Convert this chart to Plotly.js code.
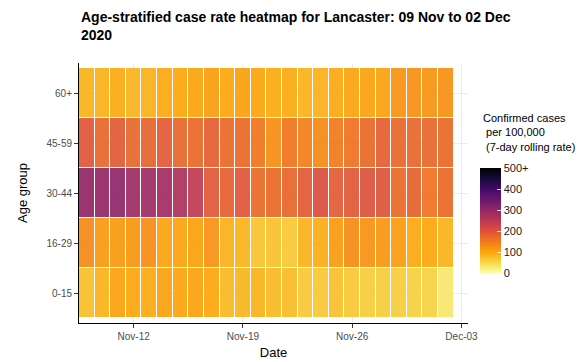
<!DOCTYPE html>
<html>
<head>
<meta charset="utf-8">
<script src="https://cdn.plot.ly/plotly-3.0.1.min.js"></script>
<style>html,body{margin:0;padding:0;background:#fff;}#chart{width:586px;height:362px;}</style>
</head>
<body>
<div id="chart"></div>
<script>
const dates = ['2020-11-09','2020-11-10','2020-11-11','2020-11-12','2020-11-13','2020-11-14','2020-11-15','2020-11-16',
  '2020-11-17','2020-11-18','2020-11-19','2020-11-20','2020-11-21','2020-11-22','2020-11-23','2020-11-24',
  '2020-11-25','2020-11-26','2020-11-27','2020-11-28','2020-11-29','2020-11-30','2020-12-01','2020-12-02'];
const ageGroups = ['0-15','16-29','30-44','45-59','60+'];
const rate_0_15  = [75, 88, 105, 100, 96, 104, 102, 104, 100, 82, 84, 88, 80, 78, 66, 66, 74, 66, 60, 60, 60, 58, 56, 30];
const rate_16_29 = [132, 113, 115, 118, 128, 103, 103, 106, 122, 90, 86, 70, 72, 66, 88, 93, 112, 130, 122, 117, 112, 97, 100, 88];
const rate_30_44 = [300, 298, 305, 285, 285, 282, 268, 245, 192, 182, 195, 168, 170, 176, 188, 205, 188, 192, 200, 198, 170, 180, 160, 170];
const rate_45_59 = [195, 175, 190, 175, 178, 188, 175, 170, 185, 170, 170, 155, 128, 155, 145, 132, 150, 160, 170, 185, 172, 175, 175, 170];
const rate_60p   = [88, 90, 95, 85, 90, 97, 100, 103, 110, 100, 106, 102, 95, 95, 88, 90, 97, 103, 104, 104, 122, 124, 120, 124];
const xTicks = ['2020-11-12','2020-11-19','2020-11-26','2020-12-03'];
const cbTickVals = [0, 100, 200, 300, 400, 500];
const cbTickText = ['0', '100', '200', '300', '400', '500+'];

const inferno = [
  [0.0, '#fcffa4'], [0.1, '#f6d746'], [0.2, '#fca50a'], [0.3, '#f37819'],
  [0.4, '#dd513a'], [0.5, '#bc3754'], [0.6, '#932667'], [0.7, '#6a176e'],
  [0.8, '#420a68'], [0.9, '#160b39'], [1.0, '#000004']
];

const PL = 79, PT = 63, PW = 389, PH = 260;

const trace = {
  type: 'heatmap',
  x: dates,
  y: ageGroups,
  z: [rate_0_15, rate_16_29, rate_30_44, rate_45_59, rate_60p],
  zmin: 0, zmax: 500,
  colorscale: inferno,
  xgap: 1, ygap: 1,
  opacity: 0.92,
  hoverinfo: 'none',
  colorbar: {
    x: (480 - PL) / PW, xanchor: 'left',
    y: (PT + PH - 220.5) / PH, yanchor: 'middle',
    lenmode: 'pixels', len: 105,
    thickness: 21,
    outlinewidth: 0,
    tickvals: cbTickVals, ticktext: cbTickText,
    ticks: 'inside', ticklen: 4, tickcolor: 'rgba(255,255,255,0.8)',
    tickfont: {family: 'Liberation Sans, Arial, sans-serif', size: 11, color: '#1a1a1a'},
    xpad: 0, ypad: 0
  }
};

const layout = {
  width: 586, height: 362,
  margin: {l: PL, r: 586 - PL - PW, t: PT, b: 362 - PT - PH},
  paper_bgcolor: '#fff', plot_bgcolor: '#fff',
  font: {family: 'Liberation Sans, Arial, sans-serif'},
  xaxis: {
    type: 'date',
    range: ['2020-11-08 12:00', '2020-12-03 10:00'],
    tickvals: xTicks,
    tickformat: '%b-%d',
    ticks: 'outside', ticklen: 4, tickcolor: '#333',
    showline: true, linecolor: '#000', linewidth: 1,
    showgrid: true, gridcolor: '#ebebeb',
    zeroline: false,
    tickfont: {size: 10, color: '#4d4d4d'},
    title: {text: 'Date', font: {size: 13, color: '#000'}, standoff: 6}
  },
  yaxis: {
    type: 'category',
    range: [-0.6, 4.6],
    ticks: 'outside', ticklen: 4, tickcolor: '#333',
    showline: true, linecolor: '#000', linewidth: 1,
    showgrid: true, gridcolor: '#ebebeb',
    zeroline: false,
    tickfont: {size: 10, color: '#4d4d4d'},
    title: {text: 'Age group', font: {size: 13, color: '#000'}, standoff: 15}
  },
  annotations: [{
    xref: 'paper', yref: 'paper',
    x: 0, y: 1 + (PT - 7) / PH,
    xanchor: 'left', yanchor: 'top', align: 'left',
    showarrow: false,
    text: '<b>Age-stratified case rate heatmap for Lancaster: 09 Nov to 02 Dec<br>2020</b>',
    font: {size: 14, color: '#000'}
  }, {
    xref: 'paper', yref: 'paper',
    x: (481 - PL) / PW, y: 1 + (PT - 110) / PH,
    xanchor: 'left', yanchor: 'top', align: 'left',
    showarrow: false,
    text: 'Confirmed cases<br> per 100,000<br> (7-day rolling rate)',
    font: {size: 11, color: '#000'}
  }]
};

Plotly.newPlot('chart', [trace], layout, {displayModeBar: false, staticPlot: true});
</script>
</body>
</html>
